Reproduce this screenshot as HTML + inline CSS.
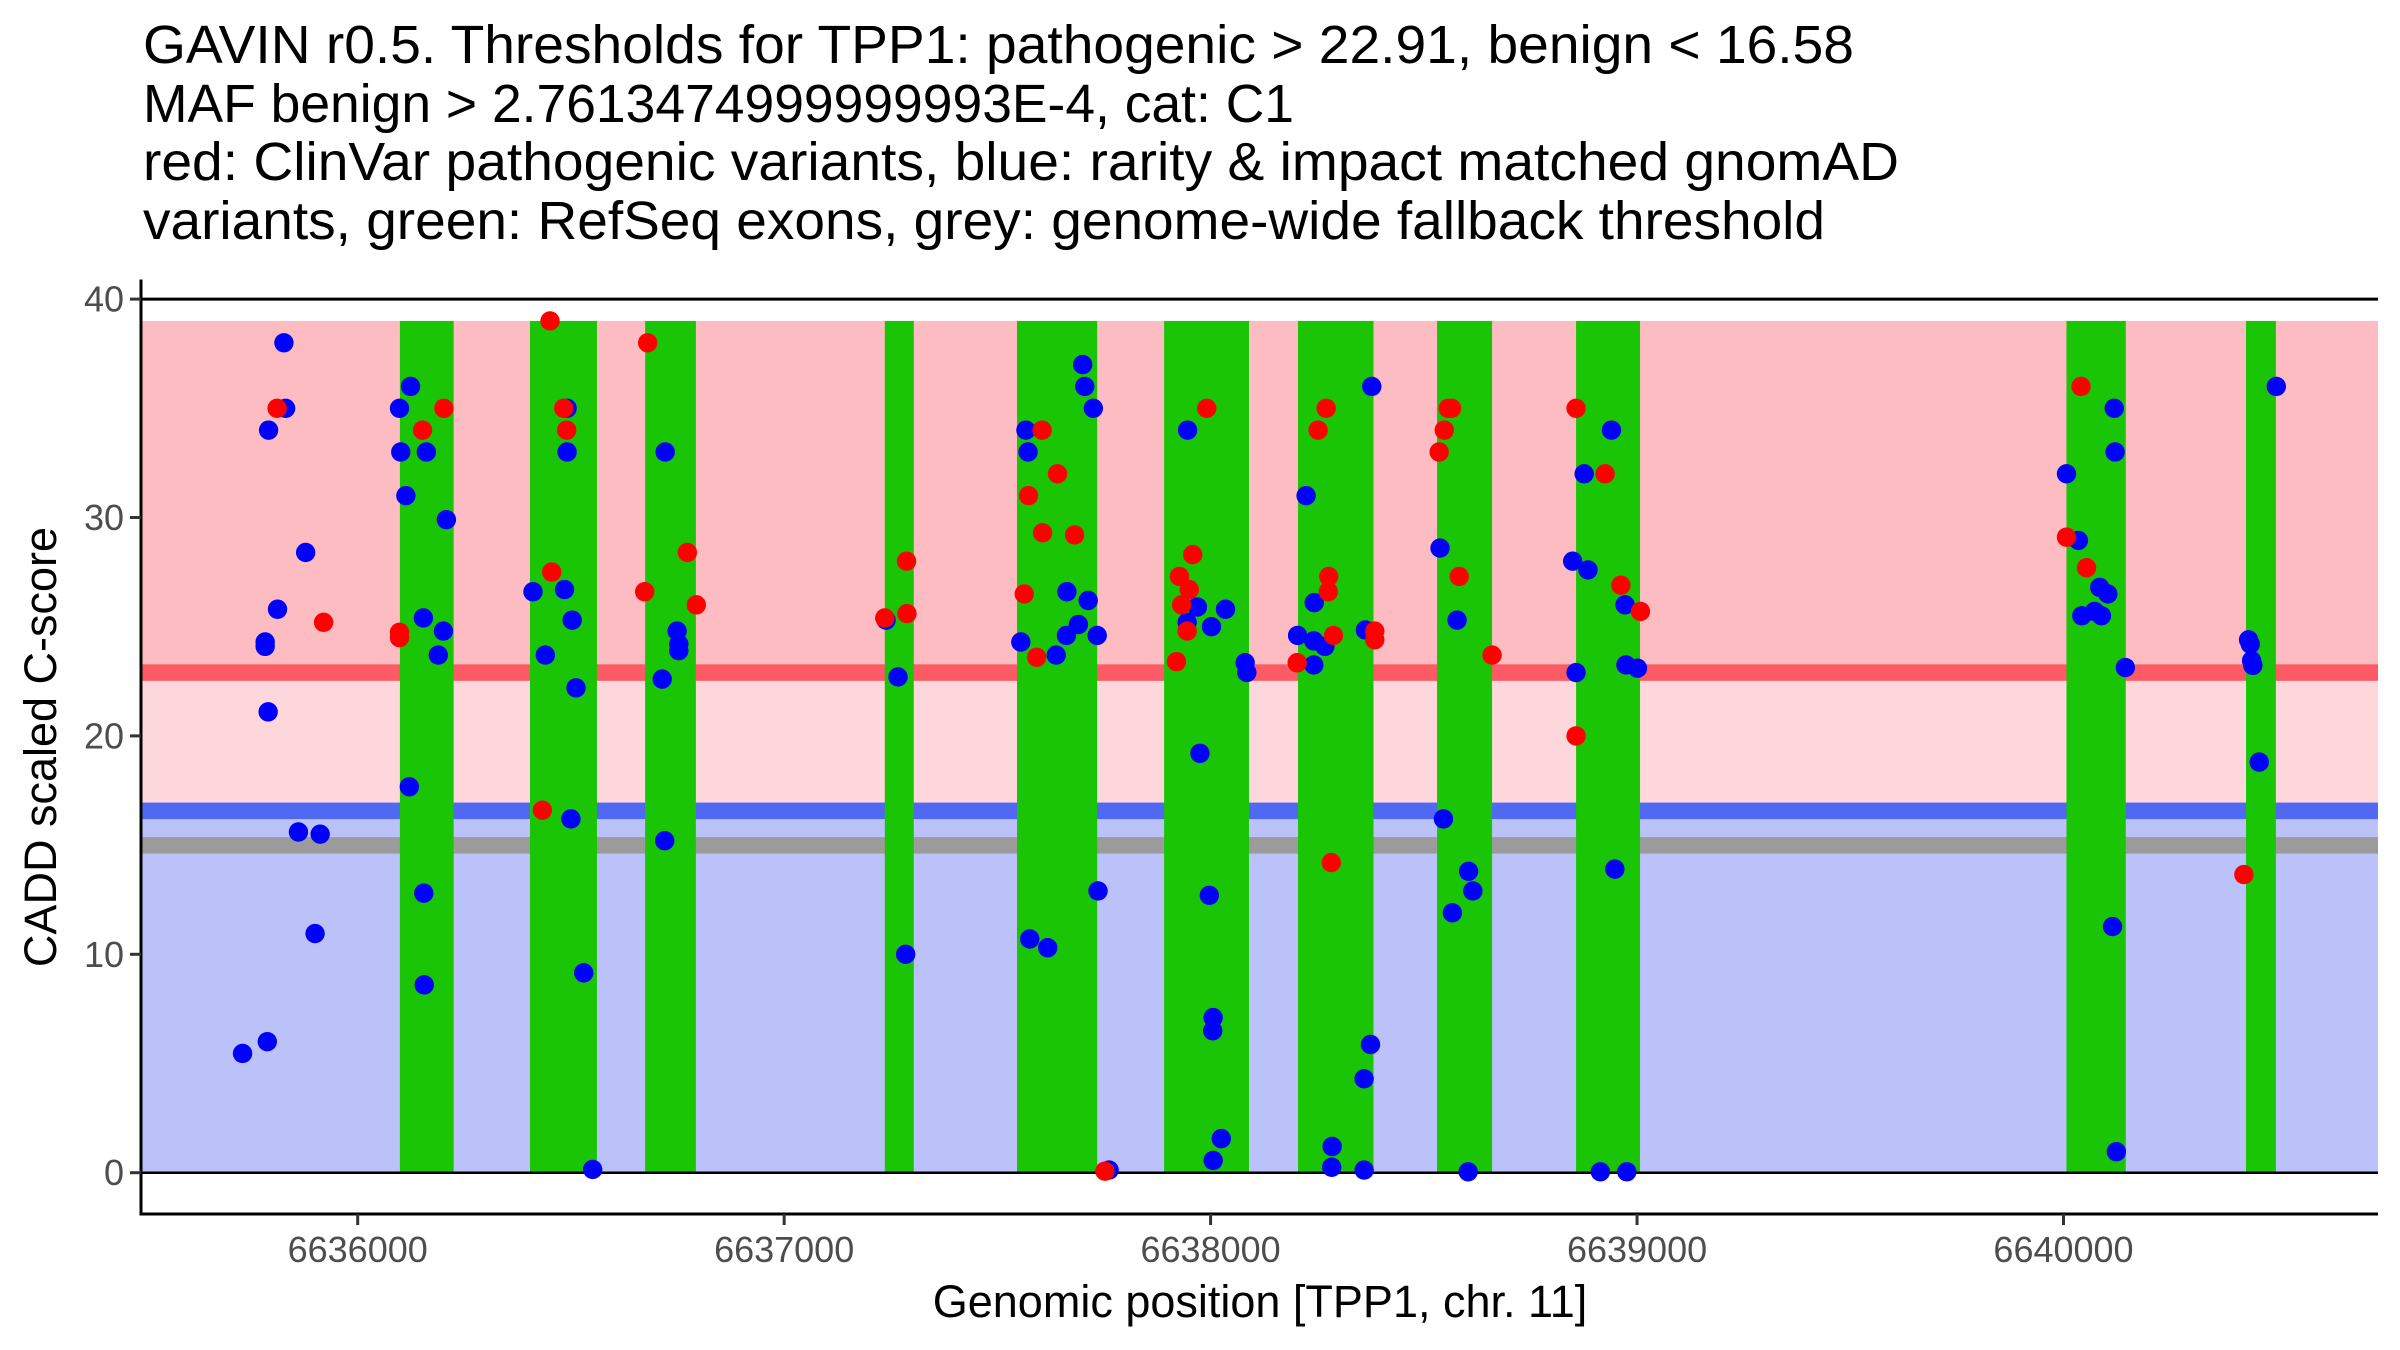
<!DOCTYPE html>
<html><head><meta charset="utf-8"><style>
html,body{margin:0;padding:0;background:#fff;}
svg{display:block;font-family:"Liberation Sans",Arial,sans-serif;}
</style></head><body>
<svg id="chart" width="2400" height="1350" viewBox="0 0 2400 1350" xmlns="http://www.w3.org/2000/svg">
<rect x="0" y="0" width="2400" height="1350" fill="#fff"/>
<g font-size="54" fill="#000">
<text x="143" y="63" textLength="1711" lengthAdjust="spacingAndGlyphs">GAVIN r0.5. Thresholds for TPP1: pathogenic &gt; 22.91, benign &lt; 16.58</text>
<text x="143" y="122" textLength="1151" lengthAdjust="spacingAndGlyphs">MAF benign &gt; 2.7613474999999993E-4, cat: C1</text>
<text x="143" y="180" textLength="1756" lengthAdjust="spacingAndGlyphs">red: ClinVar pathogenic variants, blue: rarity &amp; impact matched gnomAD</text>
<text x="143" y="239" textLength="1682" lengthAdjust="spacingAndGlyphs">variants, green: RefSeq exons, grey: genome-wide fallback threshold</text>
</g>
<g id="bands"></g>
<g id="exons"></g>
<g id="hlines"></g>
<g id="points"></g>
<g id="axes"></g>
<text x="1260" y="1317" font-size="45" text-anchor="middle" fill="#000">Genomic position [TPP1, chr. 11]</text>
<text x="0" y="0" font-size="45" text-anchor="middle" fill="#000" transform="translate(56,747) rotate(-90)">CADD scaled C-score</text>
</svg>
<script>
const thresholds = [22.91, 16.58, 15.0];
const bandTop = [39];
const exonStart = [6636099,6636404,6636674,6637236,6637546,6637891,6638205,6638531,6638857,6640007,6640428];
const exonEnd   = [6636225,6636561,6636793,6637304,6637734,6638090,6638382,6638660,6639007,6640146,6640498];
const xTicks = [6636000,6637000,6638000,6639000,6640000];
const yTicks = [0,10,20,30,40];
const blueX = [6635827,6635831,6635791,6635878,6635812,6635783,6635783,6635790,6635861,6635912,6635900,6635730,6635788,
6636098,6636124,6636101,6636161,6636113,6636208,6636154,6636201,6636189,6636121,6636155,6636156,
6636491,6636491,6636411,6636485,6636503,6636440,6636512,6636500,6636530,6636551,
6636721,6636749,6636753,6636753,6636714,6636720,6637239,6637267,6637285,
6637700,6637705,6637725,6637567,6637572,6637663,6637713,6637690,6637662,6637734,6637555,6637638,6637736,6637576,6637618,6637762,
6637946,6637969,6638035,6637945,6638002,6638081,6638085,6637975,6637997,6638006,6638005,6638025,6638006,
6638378,6638224,6638243,6638204,6638242,6638268,6638363,6638242,6638375,6638360,6638285,6638284,6638360,
6638538,6638578,6638546,6638605,6638615,6638567,6638604,
6638940,6638876,6638849,6638885,6638972,6638974,6639001,6638857,6638948,6638914,6638976,
6640119,6640121,6640007,6640035,6640085,6640104,6640043,6640073,6640089,6640145,6640115,6640124,
6640499,6640434,6640438,6640441,6640444,6640459];
const blueY = [38.0,35.0,34.0,28.4,25.8,24.3,24.1,21.1,15.6,15.5,10.95,5.46,6.0,
35.0,36.0,33.0,33.0,31.0,29.9,25.4,24.8,23.7,17.67,12.8,8.6,
35.0,33.0,26.6,26.7,25.3,23.7,22.2,16.2,9.15,0.15,
33.0,24.8,24.2,23.9,22.6,15.2,25.3,22.7,10.0,
37.0,36.0,35.0,34.0,33.0,26.6,26.2,25.1,24.6,24.6,24.3,23.7,12.9,10.7,10.3,0.12,
34.0,25.9,25.8,25.2,25.0,23.35,22.9,19.2,12.7,7.1,6.5,1.56,0.56,
36.0,31.0,26.1,24.6,24.35,24.1,24.85,23.25,5.87,4.3,1.2,0.25,0.12,
28.6,25.3,16.2,13.8,12.9,11.9,0.04,
34.0,32.0,28.0,27.6,26.0,23.25,23.1,22.9,13.9,0.04,0.04,
35.0,33.0,32.0,28.95,26.8,26.5,25.5,25.7,25.5,23.13,11.27,0.96,
36.0,24.4,24.2,23.45,23.23,18.8];
const redX = [6635811,6635920,6636152,6636202,6636098,6636098,6636451,6636483,6636490,6636455,6636433,
6636680,6636773,6636673,6636794,6637236,6637287,6637288,
6637605,6637641,6637573,6637606,6637681,6637563,6637592,6637752,
6637991,6637958,6637927,6637950,6637932,6637945,6637920,
6638271,6638252,6638277,6638276,6638288,6638385,6638385,6638203,6638283,
6638565,6638557,6638548,6638536,6638583,6638660,
6638857,6638925,6638962,6639008,6638857,6640041,6640007,6640054,6640423];
const redY = [35.0,25.2,34.0,35.0,24.74,24.5,39.0,35.0,34.0,27.5,16.6,
38.0,28.4,26.6,26.0,25.4,28.0,25.6,
34.0,32.0,31.0,29.3,29.2,26.5,23.6,0.07,
35.0,28.3,27.3,26.7,26.0,24.8,23.4,
35.0,34.0,27.3,26.6,24.6,24.8,24.4,23.35,14.2,
35.0,35.0,34.0,33.0,27.3,23.7,
35.0,32.0,26.9,25.7,20.0,36.0,29.1,27.7,13.65];

const NS='http://www.w3.org/2000/svg';
const X0=141, X1=2378, YT=279.5, YB=1214;
function xs(bp){return 357.7+(bp-6636000)*0.42645;}
function ys(v){return 1172.7-v*21.84;}
function mk(tag,attrs,parent){const e=document.createElementNS(NS,tag);for(const k in attrs)e.setAttribute(k,attrs[k]);parent.appendChild(e);return e;}
const gB=document.getElementById('bands'),gE=document.getElementById('exons'),gH=document.getElementById('hlines'),gP=document.getElementById('points'),gA=document.getElementById('axes');
const W=X1-X0;
let r;
r=mk('rect',{x:X0,y:ys(bandTop[0]),width:W,height:ys(thresholds[0])-ys(bandTop[0]),fill:'#fdbcc1'},gB);


r=mk('rect',{x:X0,y:ys(thresholds[0]),width:W,height:ys(thresholds[1])-ys(thresholds[0]),fill:'#fdd7db'},gB);


r=mk('rect',{x:X0,y:ys(thresholds[1]),width:W,height:ys(0)-ys(thresholds[1]),fill:'#bbc2f9'},gB);


const lineCols=['#fc5a64','#5168f2','#9b9b9b'];
const lineNames=['pathogenic-threshold-line','benign-threshold-line','fallback-threshold-line'];
thresholds.forEach((t,i)=>{
  const l=mk('rect',{x:X0,y:ys(t)-8,width:W,height:16.5,fill:lineCols[i]},gB);
  
  
});
exonStart.forEach((s,i)=>{
  const e=mk('rect',{x:xs(s),y:ys(bandTop[0]),width:xs(exonEnd[i])-xs(s),height:ys(0)-ys(bandTop[0]),fill:'#19c504'},gE);
  
  
});
let h=mk('line',{x1:X0,x2:X1,y1:ys(0),y2:ys(0),stroke:'#000','stroke-width':2.5},gH);


h=mk('line',{x1:X0,x2:X1,y1:ys(40),y2:ys(40),stroke:'#000','stroke-width':3},gH);


blueX.forEach((x,i)=>{
  const c=mk('circle',{cx:xs(x),cy:ys(blueY[i]),r:9.7,fill:'#0000ff'},gP);
  
  
});
redX.forEach((x,i)=>{
  const c=mk('circle',{cx:xs(x),cy:ys(redY[i]),r:9.7,fill:'#ff0000'},gP);
  
  
});
let ax=mk('line',{x1:X0,x2:X0,y1:YT,y2:YB+1.5,stroke:'#000','stroke-width':3},gA);


ax=mk('line',{x1:X0-1.5,x2:X1,y1:YB,y2:YB,stroke:'#000','stroke-width':3},gA);


yTicks.forEach(v=>{
  const t=mk('line',{x1:X0-11,x2:X0,y1:ys(v),y2:ys(v),stroke:'#333','stroke-width':3},gA);
  
  
  const tx=mk('text',{x:X0-17,y:ys(v)+12.5,'font-size':36,'text-anchor':'end',fill:'#4d4d4d'},gA);
  tx.textContent=String(v);
  
  
});
xTicks.forEach(v=>{
  const t=mk('line',{x1:xs(v),x2:xs(v),y1:YB,y2:YB+11,stroke:'#333','stroke-width':3},gA);
  
  
  const tx=mk('text',{x:xs(v),y:1262,'font-size':36,'text-anchor':'middle',fill:'#4d4d4d'},gA);
  tx.textContent=String(v);
  
  
});
</script>
</body></html>
